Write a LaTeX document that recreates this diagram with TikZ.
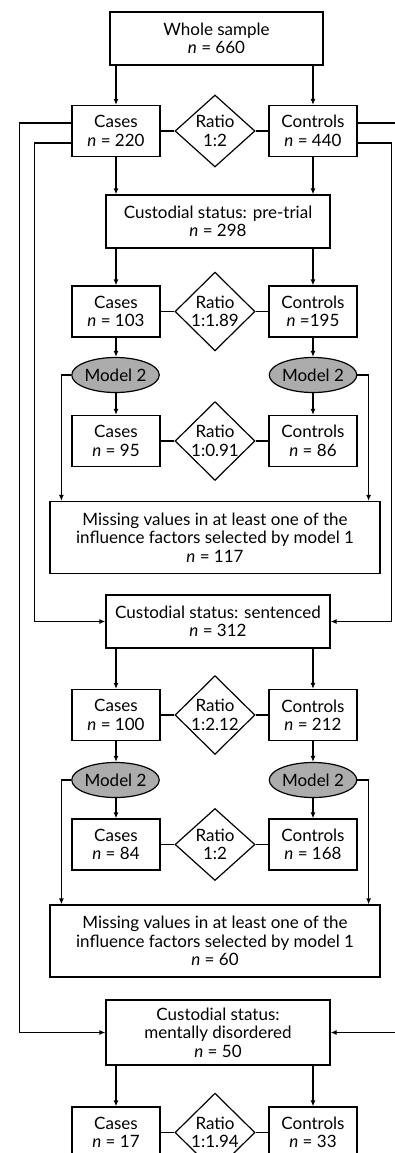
\documentclass[tikz,border=0pt]{standalone}
\usepackage{fontspec}
\setmainfont{Lato}
\usetikzlibrary{shapes.geometric,arrows.meta,calc}
\definecolor{ellgray}{RGB}{172,172,172}
\newcommand{\nv}{\textit{n}}
\begin{document}
\begin{tikzpicture}[x=1pt,y=-1pt,
  line width=1.2pt,
  txt/.style={font=\fontsize{17}{18.5}\selectfont, align=center, inner sep=1pt},
  box/.style={txt, draw, rectangle},
  sbox/.style={box, minimum width=88pt, minimum height=51pt},
  bigbox/.style={box, minimum width=224pt, minimum height=53pt},
  missbox/.style={box, minimum width=330pt, minimum height=72pt},
  ratio/.style={txt, draw, diamond, inner sep=0pt, minimum width=80pt, minimum height=72pt},
  model/.style={txt, draw, ellipse, fill=ellgray, inner sep=0pt, minimum width=75pt, minimum height=35pt},
  arr/.style={-{Latex[length=6pt,width=5pt]}}]
\clip (0,0) rectangle (395,1153);
\fill[white] (0,0) rectangle (395,1153);

% row 0
\node[box, minimum width=213pt, minimum height=53pt] (top) at (216.5,38.5) {Whole sample\\\nv{} = 660};
% row 1
\node[sbox] (c1) at (116,131) {Cases\\\nv{} = 220};
\node[sbox] (k1) at (313,131) {Controls\\\nv{} = 440};
\node[ratio] (d1) at (215,131) {Ratio\\1:2};
% pre-trial
\node[bigbox] (pre) at (218,221.5) {Custodial status: pre-trial\\\nv{} = 298};
\node[sbox] (c2) at (116,311.5) {Cases\\\nv{} = 103};
\node[sbox] (k2) at (313,311.5) {Controls\\\nv{} =195};
\node[ratio] (d2) at (215,311.5) {Ratio\\1:1.89};
\node[model] (e1) at (115.5,375) {Model 2};
\node[model] (e1r) at (313,375) {Model 2};
\node[sbox] (c3) at (116,441) {Cases\\\nv{} = 95};
\node[sbox] (k3) at (313,441) {Controls\\\nv{} = 86};
\node[ratio] (d3) at (215,441) {Ratio\\1:0.91};
\node[missbox] (m1) at (215,537.5) {Missing values in at least one of the\\influence factors selected by model 1\\\nv{} = 117};
% sentenced
\node[bigbox] (sen) at (218,621.5) {Custodial status: sentenced\\\nv{} = 312};
\node[sbox] (c4) at (116,715) {Cases\\\nv{} = 100};
\node[sbox] (k4) at (313,715) {Controls\\\nv{} = 212};
\node[ratio] (d4) at (215,715) {Ratio\\1:2.12};
\node[model] (e2) at (115.5,780) {Model 2};
\node[model] (e2r) at (313,780) {Model 2};
\node[sbox] (c5) at (116,844.5) {Cases\\\nv{} = 84};
\node[sbox] (k5) at (313,844.5) {Controls\\\nv{} = 168};
\node[ratio] (d5) at (215,844.5) {Ratio\\1:2};
\node[missbox] (m2) at (215,941) {Missing values in at least one of the\\influence factors selected by model 1\\\nv{} = 60};
% mentally disordered
\node[bigbox, minimum height=65pt] (men) at (218,1032.5) {Custodial status:\\mentally disordered\\\nv{} = 50};
\node[sbox] (c6) at (116,1132.5) {Cases\\\nv{} = 17};
\node[sbox] (k6) at (313,1132.5) {Controls\\\nv{} = 33};
\node[ratio] (d6) at (215,1132.5) {Ratio\\1:1.94};

% ratio links
\foreach \i in {1,...,6}{
  \draw (c\i.east) -- (d\i.west);
  \draw (d\i.east) -- (k\i.west);
}

% vertical arrows
\draw[arr] (top.south -| c1.north) -- (c1.north);
\draw[arr] (top.south -| k1.north) -- (k1.north);
\draw[arr] (c1.south) -- (c1.south |- pre.north);
\draw[arr] (k1.south) -- (k1.south |- pre.north);
\draw[arr] (pre.south -| c2.north) -- (c2.north);
\draw[arr] (pre.south -| k2.north) -- (k2.north);
\draw[arr] (c2.south) -- (c2.south |- e1.north);
\draw[arr] (k2.south) -- (k2.south |- e1r.north);
\draw[arr] (e1.south -| c3.north) -- (c3.north);
\draw[arr] (e1r.south -| k3.north) -- (k3.north);
\draw[arr] (sen.south -| c4.north) -- (c4.north);
\draw[arr] (sen.south -| k4.north) -- (k4.north);
\draw[arr] (c4.south) -- (c4.south |- e2.north);
\draw[arr] (k4.south) -- (k4.south |- e2r.north);
\draw[arr] (e2.south -| c5.north) -- (c5.north);
\draw[arr] (e2r.south -| k5.north) -- (k5.north);
\draw[arr] (men.south -| c6.north) -- (c6.north);
\draw[arr] (men.south -| k6.north) -- (k6.north);

% model 2 side branches
\draw[arr] (e1.west) -| ($(m1.north west)+(12,0)$);
\draw[arr] (e1r.east) -| ($(m1.north east)+(-12,0)$);
\draw[arr] (e2.west) -| ($(m2.north west)+(12,0)$);
\draw[arr] (e2r.east) -| ($(m2.north east)+(-12,0)$);

% long bypass lines
\draw[arr] ($(c1.west)+(0,-8)$) -- ++(-52,0) |- (men.west);
\draw[arr] ($(c1.west)+(0,12)$) -- ++(-37,0) |- (sen.west);
\draw[arr] ($(k1.east)+(0,-8)$) -- ++(44,0) |- (men.east);
\draw[arr] ($(k1.east)+(0,12)$) -- ++(34,0) |- (sen.east);
\end{tikzpicture}
\end{document}
